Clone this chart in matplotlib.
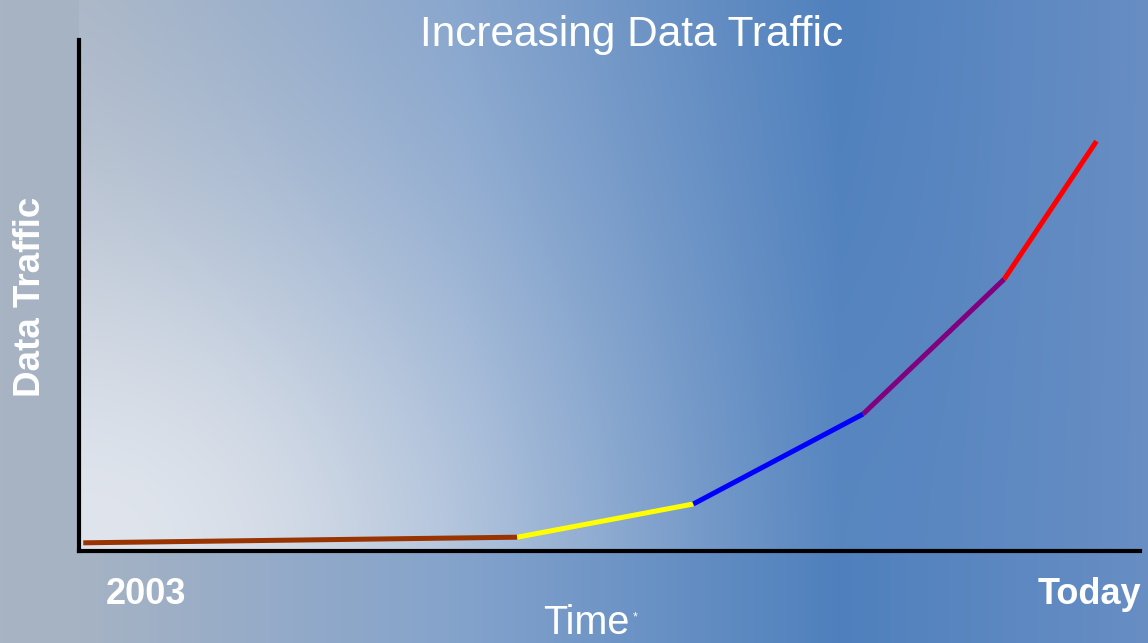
import numpy as np
import matplotlib
matplotlib.use("Agg")
import matplotlib.pyplot as plt

# ---- data ----
time_points = [0.4, 41.3, 57.9, 73.9, 87.2, 95.9]
traffic = [1.6, 2.7, 9.2, 26.8, 53.2, 80.2]
segment_colors = ["#993300", "#ffff00", "#0000ff", "#800080", "#ff0000"]
title = "Increasing Data Traffic"
x_label = "Time"
y_label = "Data Traffic"
x_start_label = "2003"
x_end_label = "Today"

W, H = 1148, 643
fig = plt.figure(figsize=(W / 100, H / 100), dpi=100)
plt.rcParams["font.family"] = ["Liberation Sans", "DejaVu Sans"]

# ---- background gradient ----
yy, xx = np.mgrid[0:H, 0:W].astype(float)
stops_x = [0, 79, 460, 840, 1148]
stops_c = np.array([[168, 180, 195], [166, 179, 196], [132, 163, 204],
                     [79, 128, 189], [104, 142, 196]]) / 255
xs = np.arange(W, dtype=float)
row = np.stack([np.interp(xs, stops_x, stops_c[:, k]) for k in range(3)], axis=-1)
base = np.broadcast_to(row[None, :, :], (H, W, 3))

# glow inside plot area, centred at the axes origin
ax_l, ax_r, ax_t, ax_b = 79, 1140, 40, 551
d = np.sqrt(((xx - ax_l) / 760.0) ** 2 + ((ax_b - yy) / 620.0) ** 2)
g = np.exp(-(d / 0.6) ** 2)
light = np.array([224, 229, 237]) / 255
inside = ((xx >= ax_l) & (yy <= ax_b)).astype(float)
m = (g * inside)[..., None]
img = base * (1 - m) + light[None, None, :] * m

bg = fig.add_axes([0, 0, 1, 1])
bg.imshow(img, extent=[0, W, H, 0], aspect="auto", interpolation="bilinear")
bg.set_xlim(0, W)
bg.set_ylim(H, 0)
bg.axis("off")

# ---- main axes ----
ax = fig.add_axes([ax_l / W, 1 - ax_b / H, (ax_r - ax_l) / W, (ax_b - ax_t) / H])
ax.set_facecolor("none")
ax.set_xlim(0, 100)
ax.set_ylim(0, 100)
for s in ["top", "right"]:
    ax.spines[s].set_visible(False)
for s in ["left", "bottom"]:
    ax.spines[s].set_linewidth(3)
    ax.spines[s].set_color("black")
    ax.spines[s].set_capstyle("projecting")
ax.set_xticks([])
ax.set_yticks([])

for i, c in enumerate(segment_colors):
    ax.plot(time_points[i:i + 2], traffic[i:i + 2], color=c, lw=3.6,
            solid_capstyle="butt", clip_on=False)


def fx(x):
    return x / W


def fy(y):
    return 1 - y / H


fig.text(fx(632), fy(46), title, color="white", fontsize=30.5,
         ha="center", va="baseline")
fig.text(fx(543), fy(642), x_label, color="white", fontsize=28.5,
         ha="left", va="bottom")
fig.text(fx(633), fy(620), "*", color="white", fontsize=9,
         ha="left", va="baseline")
fig.text(fx(106), fy(604), x_start_label, color="white", fontsize=26,
         fontweight="bold", ha="left", va="baseline")
fig.text(fx(1141), fy(604), x_end_label, color="white", fontsize=26,
         fontweight="bold", ha="right", va="baseline")
fig.text(fx(40), fy(297), y_label, color="white", fontsize=26.5,
         fontweight="bold", rotation=90, rotation_mode="anchor",
         ha="center", va="baseline")

fig.savefig("out.png", dpi=100)
